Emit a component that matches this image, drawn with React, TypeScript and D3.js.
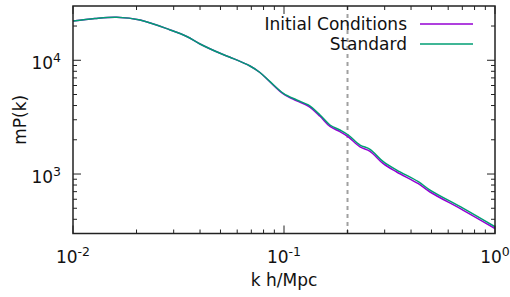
import { scaleLog, line, curveCatmullRom } from 'd3';

const W = 510;
const H = 297;
const LEFT = 73;
const RIGHT = 495;
const TOP = 6;
const BOTTOM = 233.5;
const FONT = '"DejaVu Sans", sans-serif';

const kValues = [
  0.01, 0.0127, 0.0161, 0.0208, 0.0289, 0.0346, 0.04, 0.0498, 0.0555, 0.069,
  0.0769, 0.0859, 0.0993, 0.1149, 0.1303, 0.1482, 0.1652, 0.1841, 0.2017,
  0.2293, 0.2557, 0.2955, 0.3422, 0.4333, 0.4922, 0.7079, 1.0,
];
const standardP = [
  22160, 23320, 23890, 22610, 18470, 16190, 13910, 11520, 10630, 8910, 7810,
  6483, 5127, 4476, 4045, 3303, 2698, 2438, 2203, 1799, 1649, 1283, 1084, 856,
  723, 499, 344,
];
const initialP = [
  22160, 23320, 23890, 22610, 18470, 16190, 13910, 11520, 10630, 8910, 7810,
  6450, 5060, 4400, 3960, 3220, 2620, 2360, 2120, 1730, 1585, 1232, 1042, 822,
  695, 480, 332,
];

const series = [
  { name: 'Initial Conditions', color: '#9400d3', values: initialP },
  { name: 'Standard', color: '#009e73', values: standardP },
];

const xTicks = [{ base: '10', exp: '-2', v: 0.01 }, { base: '10', exp: '-1', v: 0.1 }, { base: '10', exp: '0', v: 1 }];
const yTicks = [{ base: '10', exp: '3', v: 1000 }, { base: '10', exp: '4', v: 10000 }];
const xMinor = [0.02, 0.03, 0.04, 0.05, 0.06, 0.07, 0.08, 0.09, 0.2, 0.3, 0.4, 0.5, 0.6, 0.7, 0.8, 0.9];
const yMinor = [400, 500, 600, 700, 800, 900, 2000, 3000, 4000, 5000, 6000, 7000, 8000, 9000, 20000];
const kCut = 0.2;

export default function App() {
  const x = scaleLog().domain([0.01, 1]).range([LEFT, RIGHT]);
  const y = scaleLog().domain([300, 30000]).range([BOTTOM, TOP]);

  const gen = line<number>()
    .x((_, i) => x(kValues[i]))
    .y(d => y(d))
    .curve(curveCatmullRom.alpha(0.5));

  const axisColor = '#222';

  return (
    <svg
      width={W}
      height={H}
      viewBox={`0 0 ${W} ${H}`}
      style={{ position: 'fixed', left: 0, top: 0, background: '#fff' }}
      fontFamily={FONT}
    >
      <rect width={W} height={H} fill="#fff" />

      {/* dashed cut line */}
      <line
        x1={x(kCut)}
        x2={x(kCut)}
        y1={TOP}
        y2={BOTTOM}
        stroke="#a0a0a0"
        strokeWidth={2}
        strokeDasharray="4,4"
      />

      {series.map(s => (
        <path key={s.name} d={gen(s.values) || ''} fill="none" stroke={s.color} strokeWidth={1.5} />
      ))}

      {/* ticks */}
      {xTicks.map(t => (
        <g key={t.exp}>
          <line x1={x(t.v)} x2={x(t.v)} y1={BOTTOM} y2={BOTTOM - 8} stroke={axisColor} />
          <line x1={x(t.v)} x2={x(t.v)} y1={TOP} y2={TOP + 8} stroke={axisColor} />
          <text x={x(t.v)} y={263} textAnchor="middle" fontSize={17} fill="#111">
            {t.base}
            <tspan fontSize={12.5} dy={-7}>{t.exp}</tspan>
          </text>
        </g>
      ))}
      {xMinor.map(v => (
        <g key={v}>
          <line x1={x(v)} x2={x(v)} y1={BOTTOM} y2={BOTTOM - 4} stroke={axisColor} />
          <line x1={x(v)} x2={x(v)} y1={TOP} y2={TOP + 4} stroke={axisColor} />
        </g>
      ))}
      {yTicks.map(t => (
        <g key={t.exp}>
          <line x1={LEFT} x2={LEFT + 8} y1={y(t.v)} y2={y(t.v)} stroke={axisColor} />
          <line x1={RIGHT} x2={RIGHT - 8} y1={y(t.v)} y2={y(t.v)} stroke={axisColor} />
          <text x={61} y={y(t.v) + 9} textAnchor="end" fontSize={17} fill="#111">
            {t.base}
            <tspan fontSize={12.5} dy={-7}>{t.exp}</tspan>
          </text>
        </g>
      ))}
      {yMinor.map(v => (
        <g key={v}>
          <line x1={LEFT} x2={LEFT + 4} y1={y(v)} y2={y(v)} stroke={axisColor} />
          <line x1={RIGHT} x2={RIGHT - 4} y1={y(v)} y2={y(v)} stroke={axisColor} />
        </g>
      ))}

      {/* border */}
      <rect
        x={LEFT}
        y={TOP}
        width={RIGHT - LEFT}
        height={BOTTOM - TOP}
        fill="none"
        stroke={axisColor}
        strokeWidth={1.5}
      />

      {/* legend */}
      {series.map((s, i) => (
        <g key={s.name} transform={`translate(0, ${24 + i * 20})`}>
          <text x={407} y={6} textAnchor="end" fontSize={17} fill="#111">
            {s.name}
          </text>
          <line x1={420} x2={473} y1={0} y2={0} stroke={s.color} strokeWidth={1.5} />
        </g>
      ))}

      {/* axis labels */}
      <text x={(LEFT + RIGHT) / 2} y={286} textAnchor="middle" fontSize={17} fill="#111">
        k h/Mpc
      </text>
      <text
        transform={`translate(26, ${(TOP + BOTTOM) / 2}) rotate(-90)`}
        textAnchor="middle"
        fontSize={17}
        fill="#111"
      >
        mP(k)
      </text>
    </svg>
  );
}
